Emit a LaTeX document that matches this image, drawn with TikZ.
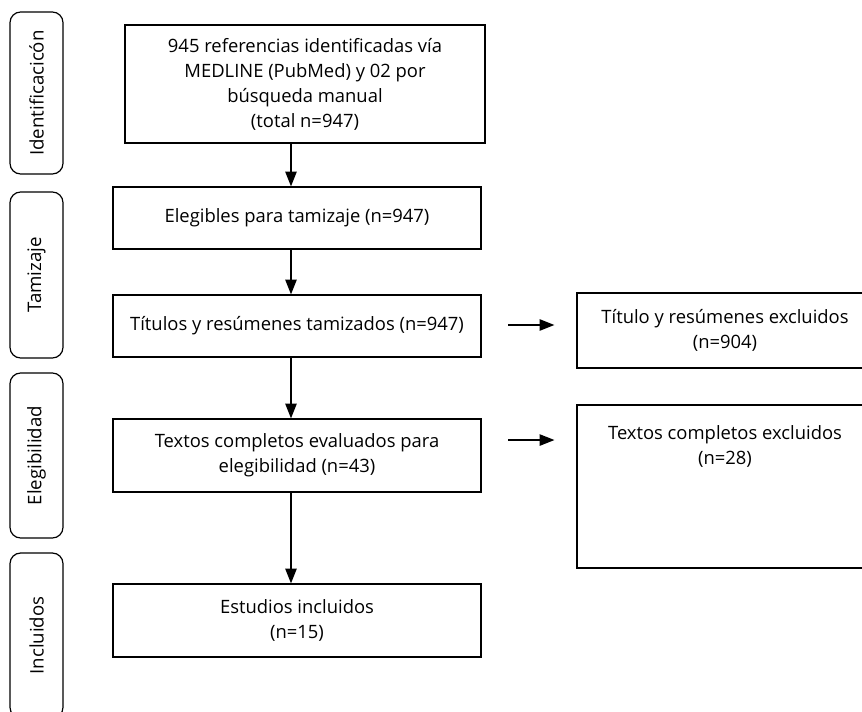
\documentclass[tikz,border=0pt]{standalone}
\usepackage{fontspec}
\setmainfont{Open Sans}
\usetikzlibrary{arrows.meta,positioning,calc}

\begin{document}
\begin{tikzpicture}[x=0.75pt,y=-0.75pt,
    box/.style={draw,line width=0.9pt,rectangle,align=center,inner sep=0pt,
        font=\fontsize{13.8}{18.75}\selectfont},
    phase/.style={draw,line width=0.9pt,rounded corners=8pt,minimum width=39.75pt,
        minimum height=123pt,inner sep=0pt},
    phasetext/.style={rotate=90,font=\fontsize{14}{16}\selectfont},
    arrow/.style={line width=0.9pt,-{Triangle[length=11pt,width=8.5pt]}}]

    % Page size
    \useasboundingbox (0,0) rectangle (862,712);

    % Phase labels on the left
    \node[phase,minimum height=121.5pt] (ident) at (36.5,93) {};
    \node[phasetext] at (ident) {Identificacicón};
    \node[phase,minimum height=124.5pt] (tamiz) at (36.5,275) {};
    \node[phasetext] at (tamiz) {Tamizaje};
    \node[phase,minimum height=123.75pt] (elegib) at (36.5,455.5) {};
    \node[phasetext] at (elegib) {Elegibilidad};
    \node[phase,minimum height=123.75pt] (incl) at (36.5,635.5) {};
    \node[phasetext] at (incl) {Incluidos};

    % Main flow
    \node[box,minimum width=270pt,minimum height=88.5pt] (refs) at (305,84)
        {945 referencias identificadas vía\\MEDLINE (PubMed) y 02 por\\búsqueda manual\\(total n=947)};
    \node[box,minimum width=276pt,minimum height=46.5pt] (elig) at (297,218)
        {Elegibles para tamizaje (n=947)};
    \node[box,minimum width=276pt,minimum height=46.5pt] (titles) at (297,326)
        {Títulos y resúmenes tamizados (n=947)};
    \node[box,minimum width=276pt,minimum height=54.75pt] (full) at (297,455.5)
        {Textos completos evaluados para\\elegibilidad (n=43)};
    \node[box,minimum width=276pt,minimum height=54.75pt] (studies) at (297,620.5)
        {Estudios incluidos\\(n=15)};

    % Exclusions
    \node[box,minimum width=222pt,minimum height=56.25pt] (exclA) at (725,330.5)
        {Título y resúmenes excluidos\\(n=904)};
    \node[box,minimum width=222pt,minimum height=122.25pt,
        label={[anchor=north,align=center,yshift=-12pt,
            font=\fontsize{13.8}{18.75}\selectfont]north:Textos completos excluidos\\(n=28)}]
        (exclB) at (725,486.5) {};

    % Arrows
    \coordinate (spine) at (291,0);
    \draw[arrow] (refs.south -| spine) -- (elig.north -| spine);
    \draw[arrow] (elig.south -| spine) -- (titles.north -| spine);
    \draw[arrow] (titles.south -| spine) -- (full.north -| spine);
    \draw[arrow] (full.south -| spine) -- (studies.north -| spine);
    \draw[arrow,shorten <=20pt,shorten >=16.5pt] ([yshift=0.75pt]titles.east)
        -- ([yshift=0.75pt]titles.east -| exclA.west);
    \draw[arrow,shorten <=20pt,shorten >=16.5pt] ([yshift=11.6pt]full.east)
        -- ([yshift=11.6pt]full.east -| exclB.west);

\end{tikzpicture}
\end{document}
